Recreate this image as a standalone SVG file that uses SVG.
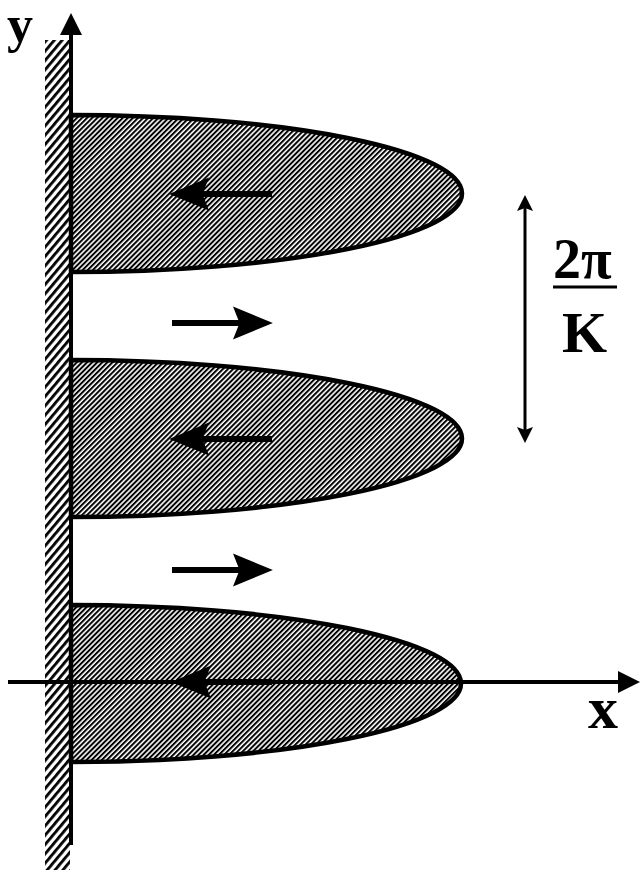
<svg xmlns="http://www.w3.org/2000/svg" width="642" height="873" viewBox="0 0 642 873">
<defs>
<style>
.lobe{fill:url(#lobeHatch);stroke:#000;stroke-width:4.5}
.axis{stroke:#000;stroke-width:4;fill:none}
.flow{stroke:#000;stroke-width:6;fill:none;marker-end:url(#flowHead)}
.dim{stroke:#000;stroke-width:3;fill:none;marker-start:url(#dimHead);marker-end:url(#dimHead)}
.lbl{font-family:"Liberation Serif","Times New Roman",serif;font-weight:bold;fill:#000}
</style>
<pattern id="lobeHatch" patternUnits="userSpaceOnUse" width="3.6" height="3.6" patternTransform="rotate(-45)">
<rect width="3.6" height="3.6" fill="#fff"/>
<rect width="3.6" height="2" fill="#000"/>
</pattern>
<pattern id="wallHatch" patternUnits="userSpaceOnUse" width="6" height="6" patternTransform="rotate(-50)">
<rect width="6" height="6" fill="#fff"/>
<rect width="6" height="2.8" fill="#000"/>
</pattern>
<marker id="flowHead" markerUnits="userSpaceOnUse" markerWidth="40" markerHeight="34" viewBox="0 0 36 30" refX="10" refY="15" orient="auto">
<path d="M0,0 L36,15 L0,30 L6,15 Z" fill="#000"/>
</marker>
<marker id="dimHead" markerUnits="userSpaceOnUse" markerWidth="16" markerHeight="16" viewBox="0 0 16 16" refX="5" refY="8" orient="auto-start-reverse">
<path d="M0,0 L16,8 L0,16 L3,8 Z" fill="#000"/>
</marker>
<marker id="axisHead" markerUnits="userSpaceOnUse" markerWidth="22" markerHeight="22" viewBox="0 0 22 22" refX="4" refY="11" orient="auto">
<path d="M0,0 L22,11 L0,22 Z" fill="#000"/>
</marker>
</defs>
<rect width="642" height="873" fill="#fff"/>
<g id="wall">
<rect x="45" y="40" width="25" height="830" fill="url(#wallHatch)"/>
</g>
<g id="lobe-top">
<path class="lobe" d="M71,115 A391,78.5 0 0 1 71,272 Z"/>
</g>
<g id="lobe-middle">
<path class="lobe" d="M71,360 A391,78.5 0 0 1 71,517 Z"/>
</g>
<g id="lobe-bottom">
<path class="lobe" d="M71,605 A390,78.5 0 0 1 71,762 Z"/>
</g>
<g id="axes">
<line class="axis" x1="71" y1="845" x2="71" y2="31" marker-end="url(#axisHead)"/>
<line class="axis" x1="8" y1="682" x2="622" y2="682" marker-end="url(#axisHead)"/>
</g>
<g id="connectors">
<line class="flow" x1="272" y1="194" x2="198" y2="194"/>
<line class="flow" x1="272" y1="439" x2="198" y2="439"/>
<line class="flow" x1="272" y1="682" x2="200" y2="682"/>
<line class="flow" x1="172" y1="323" x2="244" y2="323"/>
<line class="flow" x1="172" y1="570" x2="244" y2="570"/>
<line class="dim" x1="525" y1="206" x2="525" y2="432"/>
</g>
<g id="labels">
<text class="lbl" x="7" y="42" font-size="52">y</text>
<text class="lbl" x="588" y="728" font-size="60">x</text>
<text class="lbl" x="553" y="278" font-size="56">2π</text>
<line x1="553" y1="287" x2="617" y2="287" stroke="#000" stroke-width="3"/>
<text class="lbl" x="562" y="352" font-size="58">K</text>
</g>
</svg>
